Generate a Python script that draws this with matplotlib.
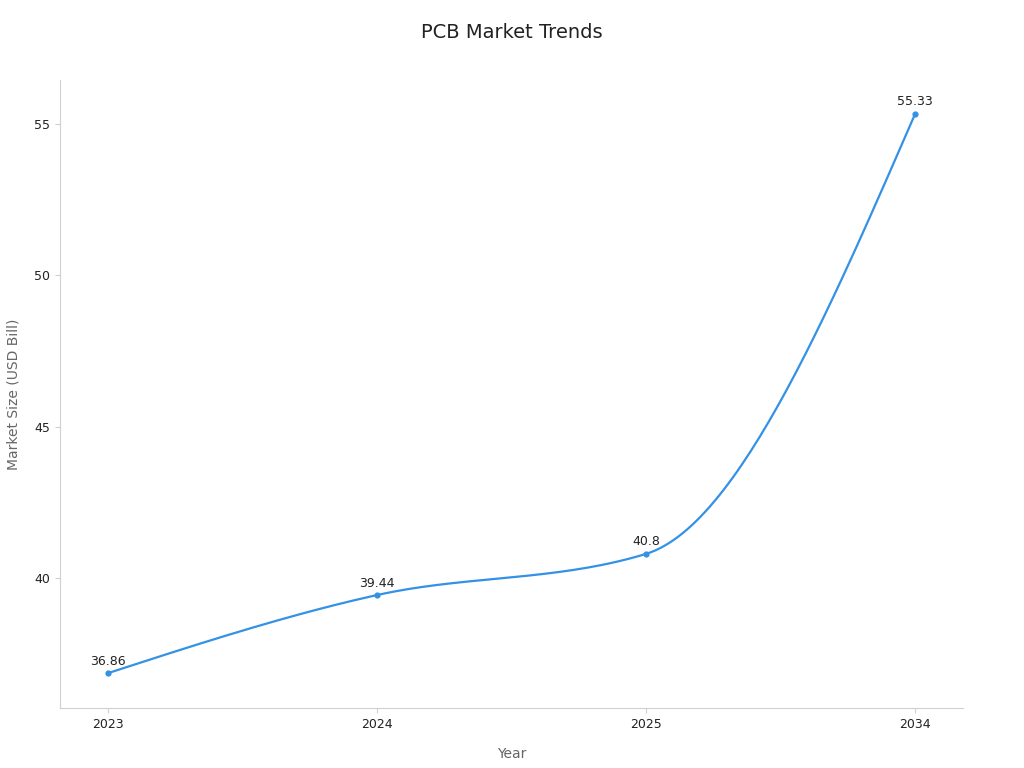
import numpy as np
import matplotlib
matplotlib.use("Agg")
import matplotlib.pyplot as plt

years = ["2023", "2024", "2025", "2034"]
values = [36.86, 39.44, 40.8, 55.33]
color = "#3391e6"

def monotone(x, y, n=60):
    x = np.asarray(x, float); y = np.asarray(y, float)
    h = np.diff(x); s = np.diff(y) / h
    m = np.zeros(len(x))
    for i in range(1, len(x) - 1):
        if s[i-1] * s[i] <= 0:
            m[i] = 0
        else:
            p = (s[i-1]*h[i] + s[i]*h[i-1]) / (h[i-1] + h[i])
            m[i] = (np.sign(s[i-1]) + np.sign(s[i])) * min(abs(s[i-1]), abs(s[i]), 0.5*abs(p))
    m[0] = (3*s[0] - m[1]) / 2
    m[-1] = (3*s[-1] - m[-2]) / 2
    xs, ys = [], []
    for i in range(len(x) - 1):
        t = np.linspace(0, 1, n)
        h00 = 2*t**3 - 3*t**2 + 1; h10 = t**3 - 2*t**2 + t
        h01 = -2*t**3 + 3*t**2; h11 = t**3 - t**2
        xs.append(x[i] + t*h[i])
        ys.append(h00*y[i] + h10*h[i]*m[i] + h01*y[i+1] + h11*h[i]*m[i+1])
    return np.concatenate(xs), np.concatenate(ys)

fig = plt.figure(figsize=(10.24, 7.68), dpi=100)
ax = fig.add_axes([60/1024, 60/768, 903/1024, 628/768])
xi = np.arange(len(years))
cx, cy = monotone(xi, values)
ax.plot(cx, cy, color=color, lw=1.6)
ax.scatter(xi, values, color=color, s=12, zorder=3)
for x, v in zip(xi, values):
    ax.annotate(f"{v:g}", (x, v), xytext=(0, 4), textcoords="offset points",
                ha="center", va="bottom", fontsize=9, color="#222222")
ax.set_xlim(-0.178, 3.178)
ax.set_ylim(35.71, 56.45)
ax.set_xticks(xi); ax.set_xticklabels(years)
ax.set_yticks([40, 45, 50, 55])
for s in ["top", "right"]:
    ax.spines[s].set_visible(False)
for s in ["left", "bottom"]:
    ax.spines[s].set_color("#d0d0d0")
ax.tick_params(colors="#d0d0d0", labelcolor="#222222", labelsize=9)
ax.set_xlabel("Year", fontsize=10, color="#666666", labelpad=12)
ax.set_ylabel("Market Size (USD Bill)", fontsize=10, color="#666666", labelpad=10)
fig.suptitle("PCB Market Trends", y=0.97, fontsize=14, color="#222222")
fig.savefig("out.png", dpi=100)
